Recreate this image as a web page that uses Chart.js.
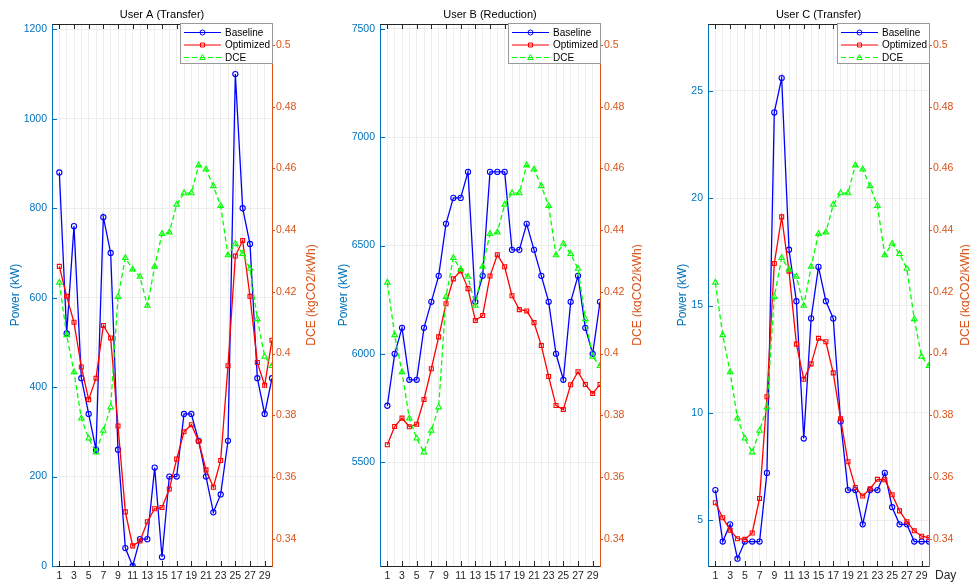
<!DOCTYPE html>
<html>
<head>
<meta charset="utf-8">
<script src="https://cdn.jsdelivr.net/npm/chart.js@4.4.0/dist/chart.umd.min.js"></script>
<style>
  body { margin: 0; background: #fff; }
  #wrap { position: relative; width: 970px; height: 586px; overflow: hidden; }
  #wrap canvas { position: absolute; top: 0; }
</style>
</head>
<body>
<div id="wrap">
  <canvas id="chartA" width="322" height="586" style="left:0px"></canvas>
  <canvas id="chartB" width="320" height="586" style="left:322px"></canvas>
  <canvas id="chartC" width="328" height="586" style="left:642px"></canvas>
</div>
<script>
// --- DATA ---
const days = [1, 2, 3, 4, 5, 6, 7, 8, 9, 10, 11, 12, 13, 14, 15, 16, 17, 18, 19, 20, 21, 22, 23, 24, 25, 26, 27, 28, 29, 30];
const xTickDays = [1, 3, 5, 7, 9, 11, 13, 15, 17, 19, 21, 23, 25, 27, 29];

// DCE (kgCO2/kWh), same curve in every panel
const dce = [0.423, 0.406, 0.394, 0.379, 0.3725, 0.368, 0.375, 0.3826, 0.4184, 0.431,
             0.4273, 0.4249, 0.4155, 0.4282, 0.4388, 0.4393, 0.4483, 0.452, 0.452, 0.461,
             0.4597, 0.4543, 0.4479, 0.4319, 0.4356, 0.4323, 0.4275, 0.4112, 0.399, 0.396];
const dceTicks = [0.34, 0.36, 0.38, 0.40, 0.42, 0.44, 0.46, 0.48, 0.50];

// User A (Transfer), kW
const baseA = [880, 520, 760, 420, 340, 260, 780, 700, 260, 40,
               0, 60, 60, 220, 20, 200, 200, 340, 340, 280,
               200, 120, 160, 280, 1100, 800, 720, 420, 340, 420];
const optA = [670, 603, 545, 445, 372, 420, 538, 510, 313, 121,
              45, 56, 99, 128, 131, 172, 239, 300, 316, 279,
              215, 176, 236, 448, 693, 728, 603, 455, 404, 505];
const ticksA = [0, 200, 400, 600, 800, 1000, 1200];

// User B (Reduction), kW
const baseB = [5760, 6000, 6120, 5880, 5880, 6120, 6240, 6360, 6600, 6720,
               6720, 6840, 6240, 6360, 6840, 6840, 6840, 6480, 6480, 6600,
               6480, 6360, 6240, 6000, 5880, 6240, 6360, 6120, 6000, 6240];
const optB = [5580, 5664, 5703, 5663, 5675, 5789, 5931, 6078, 6231, 6346,
              6383, 6301, 6154, 6177, 6359, 6457, 6402, 6268, 6204, 6198,
              6144, 6038, 5895, 5761, 5743, 5857, 5917, 5858, 5817, 5858];
const ticksB = [5500, 6000, 6500, 7000, 7500];

// User C (Transfer), kW
const baseC = [6.4, 4.0, 4.8, 3.2, 4.0, 4.0, 4.0, 7.2, 24.0, 25.6,
               17.6, 15.2, 8.8, 14.4, 16.8, 15.2, 14.4, 9.6, 6.4, 6.4,
               4.8, 6.4, 6.4, 7.2, 5.6, 4.8, 4.8, 4.0, 4.0, 4.0];
const optC = [5.81, 5.11, 4.53, 4.13, 4.1, 4.4, 6.01, 10.75, 16.96, 19.13,
              16.6, 13.2, 11.56, 12.28, 13.47, 13.31, 11.86, 9.72, 7.72, 6.52,
              6.12, 6.46, 6.9, 6.88, 6.18, 5.43, 4.92, 4.5, 4.25, 4.18];
const ticksC = [5, 10, 15, 20, 25];

const FONT = "'Liberation Sans', Arial, Helvetica, sans-serif";
const BLUE_AX = '#0072BD';
const ORANGE_AX = '#D95319';
const GRID = '#ededed';

const toXY = vals => vals.map((v, i) => ({ x: days[i], y: v }));

// --- DECORATIONS (frame ticks, titles, legend) ---
const decor = {
  id: 'decor',
  afterDraw(chart, args, o) {
    const { ctx, chartArea: ca, scales } = chart;
    ctx.save();
    ctx.lineWidth = 1;

    // top frame line
    ctx.strokeStyle = '#262626';
    ctx.beginPath();
    ctx.moveTo(ca.left, ca.top + 0.5);
    ctx.lineTo(ca.right, ca.top + 0.5);
    ctx.stroke();

    // x tick marks, inward on bottom and top
    xTickDays.forEach(d => {
      const px = Math.round(scales.x.getPixelForValue(d)) + 0.5;
      ctx.beginPath();
      ctx.moveTo(px, ca.bottom); ctx.lineTo(px, ca.bottom - 5);
      ctx.moveTo(px, ca.top); ctx.lineTo(px, ca.top + 5);
      ctx.stroke();
    });

    // left ticks, inward
    ctx.strokeStyle = BLUE_AX;
    o.yTicks.forEach(v => {
      const py = Math.round(scales.y.getPixelForValue(v)) + 0.5;
      ctx.beginPath();
      ctx.moveTo(ca.left, py); ctx.lineTo(ca.left + 5, py);
      ctx.stroke();
    });

    // right ticks, outward
    ctx.strokeStyle = ORANGE_AX;
    dceTicks.forEach(v => {
      const py = Math.round(scales.y1.getPixelForValue(v)) + 0.5;
      ctx.beginPath();
      ctx.moveTo(ca.right, py); ctx.lineTo(ca.right + 3, py);
      ctx.stroke();
    });

    // title
    ctx.fillStyle = '#000';
    ctx.font = '11px ' + FONT;
    ctx.textAlign = 'center';
    ctx.textBaseline = 'middle';
    ctx.fillText(o.title, (ca.left + ca.right) / 2, 15);

    // axis titles
    const midY = (ca.top + ca.bottom) / 2;
    ctx.font = '12px ' + FONT;
    ctx.save();
    ctx.translate(ca.left - o.leftTitleOff, midY);
    ctx.rotate(-Math.PI / 2);
    ctx.fillStyle = BLUE_AX;
    ctx.fillText('Power (kW)', 0, 0);
    ctx.restore();
    ctx.save();
    ctx.translate(ca.right + o.rightTitleOff, midY);
    ctx.rotate(-Math.PI / 2);
    ctx.fillStyle = ORANGE_AX;
    ctx.fillText('DCE (kgCO2/kWh)', 0, 0);
    ctx.restore();

    if (o.showDay) {
      ctx.fillStyle = '#262626';
      ctx.textAlign = 'left';
      ctx.fillText('Day', ca.right + 6, 576);
    }

    // legend
    const lw = 93, lh = 41;
    const lx = ca.right + 1 - lw, ly = ca.top - 1;
    ctx.fillStyle = '#fff';
    ctx.fillRect(lx, ly, lw, lh);
    ctx.strokeStyle = '#9a9a9a';
    ctx.strokeRect(lx + 0.5, ly + 0.5, lw - 1, lh - 1);
    const rows = [
      { label: 'Baseline', color: '#0000ff', dash: [], marker: 'circle' },
      { label: 'Optimized', color: '#ff0000', dash: [], marker: 'rect' },
      { label: 'DCE', color: '#00ff00', dash: [5, 3], marker: 'triangle' }
    ];
    ctx.font = '10px ' + FONT;
    ctx.textAlign = 'left';
    rows.forEach((r, i) => {
      const ry = ly + 9.5 + i * 12.5;
      ctx.strokeStyle = r.color;
      ctx.lineWidth = 1.2;
      ctx.setLineDash(r.dash);
      ctx.beginPath();
      ctx.moveTo(lx + 4, ry); ctx.lineTo(lx + 41, ry);
      ctx.stroke();
      ctx.setLineDash([]);
      ctx.lineWidth = 1;
      const mx = lx + 22.5;
      ctx.beginPath();
      if (r.marker === 'circle') {
        ctx.arc(mx, ry, 2.5, 0, Math.PI * 2);
      } else if (r.marker === 'rect') {
        ctx.rect(mx - 2, ry - 2, 4, 4);
      } else {
        ctx.moveTo(mx, ry - 3); ctx.lineTo(mx + 2.8, ry + 2); ctx.lineTo(mx - 2.8, ry + 2); ctx.closePath();
      }
      ctx.stroke();
      ctx.fillStyle = '#000';
      ctx.fillText(r.label, lx + 45, ry + 0.5);
    });
    ctx.restore();
  }
};

function makePanel(canvasId, cfg) {
  return new Chart(document.getElementById(canvasId), {
    type: 'line',
    data: {
      datasets: [
        {
          label: 'DCE', data: toXY(dce), yAxisID: 'y1',
          borderColor: '#00ff00', borderWidth: 1.3, borderDash: [5, 3],
          pointStyle: 'triangle', pointRadius: 3.2, pointBorderWidth: 1.1,
          pointBorderColor: '#00ff00', pointBackgroundColor: 'rgba(0,0,0,0)'
        },
        {
          label: 'Optimized', data: toXY(cfg.opt), yAxisID: 'y',
          borderColor: '#ff0000', borderWidth: 1.3,
          pointStyle: 'rect', pointRadius: 2.8, pointBorderWidth: 1.1,
          pointBorderColor: '#ff0000', pointBackgroundColor: 'rgba(0,0,0,0)'
        },
        {
          label: 'Baseline', data: toXY(cfg.base), yAxisID: 'y',
          borderColor: '#0000ff', borderWidth: 1.3,
          pointStyle: 'circle', pointRadius: 2.6, pointBorderWidth: 1.1,
          pointBorderColor: '#0000ff', pointBackgroundColor: 'rgba(0,0,0,0)'
        }
      ]
    },
    options: {
      responsive: false,
      animation: false,
      devicePixelRatio: 1,
      layout: { padding: { top: 24, left: 0, right: 0, bottom: 0 } },
      plugins: {
        legend: { display: false },
        tooltip: { enabled: false },
        title: { display: false },
        decor: {
          title: cfg.title, yTicks: cfg.yTicks,
          leftTitleOff: cfg.leftTitleOff, rightTitleOff: cfg.rightTitleOff,
          showDay: cfg.showDay
        }
      },
      scales: {
        x: {
          type: 'linear', min: 0, max: 30,
          afterBuildTicks: s => { s.ticks = days.slice(0, 29).map(v => ({ value: v })); },
          afterFit: s => { s.height = 20; },
          grid: { color: GRID, drawTicks: false },
          border: { color: '#262626', width: 1 },
          ticks: {
            autoSkip: false, maxRotation: 0, padding: 4,
            color: '#262626', font: { family: FONT, size: 10.5 },
            callback: v => (v % 2 === 1 ? String(v) : '')
          }
        },
        y: {
          position: 'left', min: cfg.yMin, max: cfg.yMax,
          afterBuildTicks: s => { s.ticks = cfg.yTicks.map(v => ({ value: v })); },
          afterFit: s => { s.width = cfg.leftW; },
          grid: { color: GRID, drawTicks: false },
          border: { color: BLUE_AX, width: 1 },
          ticks: {
            padding: 5, color: BLUE_AX, font: { family: FONT, size: 10.5 },
            callback: v => String(v)
          }
        },
        y1: {
          position: 'right', min: 0.33115, max: 0.5068,
          afterBuildTicks: s => { s.ticks = dceTicks.map(v => ({ value: v })); },
          afterFit: s => { s.width = cfg.rightW; },
          grid: { display: false, drawTicks: false },
          border: { color: ORANGE_AX, width: 1 },
          ticks: {
            padding: 4, color: ORANGE_AX, font: { family: FONT, size: 10.5 },
            callback: v => String(Number(v.toFixed(2)))
          }
        }
      }
    },
    plugins: [decor]
  });
}

makePanel('chartA', {
  title: 'User A (Transfer)', base: baseA, opt: optA,
  yMin: 0, yMax: 1212, yTicks: ticksA,
  leftW: 52, rightW: 50, leftTitleOff: 36.5, rightTitleOff: 39.5, showDay: false
});
makePanel('chartB', {
  title: 'User B (Reduction)', base: baseB, opt: optB,
  yMin: 5020, yMax: 7523, yTicks: ticksB,
  leftW: 58, rightW: 42, leftTitleOff: 36.5, rightTitleOff: 38, showDay: false
});
makePanel('chartC', {
  title: 'User C (Transfer)', base: baseC, opt: optC,
  yMin: 2.86, yMax: 28.12, yTicks: ticksC,
  leftW: 66, rightW: 41, leftTitleOff: 25, rightTitleOff: 36.5, showDay: true
});
</script>
</body>
</html>
